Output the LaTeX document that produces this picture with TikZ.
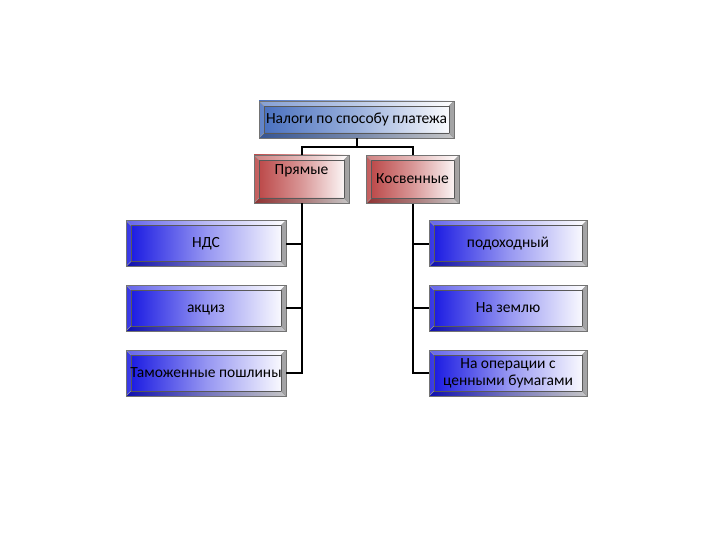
\documentclass[tikz,border=0pt]{standalone}
\usepackage{fontspec}
\setmainfont{Carlito}
\usetikzlibrary{calc}
\definecolor{bb}{RGB}{20,20,225}
\definecolor{tb}{RGB}{70,110,190}
\definecolor{rb}{RGB}{185,65,65}
\tikzset{
  bevel/.style={draw=black!55, line width=0.8pt, inner sep=0pt, align=center,
    font=\fontsize{15.5}{17}\selectfont,
    path picture={
      \coordinate (A) at (path picture bounding box.north west);
      \coordinate (B) at (path picture bounding box.north east);
      \coordinate (C) at (path picture bounding box.south east);
      \coordinate (D) at (path picture bounding box.south west);
      \coordinate (a) at ($(A)+(5pt,-5pt)$);
      \coordinate (b) at ($(B)+(-5pt,-5pt)$);
      \coordinate (c) at ($(C)+(-5pt,5pt)$);
      \coordinate (d) at ($(D)+(5pt,5pt)$);
      \fill[white, opacity=0.35] (A) -- (B) -- (b) -- (a) -- cycle;
      \fill[white, opacity=0.15] (A) -- (a) -- (d) -- (D) -- cycle;
      \fill[black, opacity=0.22] (D) -- (d) -- (c) -- (C) -- cycle;
      \fill[black, opacity=0.35] (B) -- (C) -- (c) -- (b) -- cycle;
      \draw[black!65, line width=0.6pt] (a) rectangle (c);
      \draw[black!40, line width=0.4pt] (A) -- (a) (B) -- (b) (C) -- (c) (D) -- (d);
    }},
  one/.style={text height=10pt, text depth=2pt},
  bluebox/.style={bevel, left color=bb, right color=white, middle color=bb!45,
    minimum width=160pt, minimum height=46pt},
  topbox/.style={bevel, one, left color=tb, right color=white, middle color=tb!55,
    minimum width=195pt, minimum height=37pt},
  redbox/.style={bevel, one, left color=rb, right color=white, middle color=rb!55,
    minimum width=95pt, minimum height=48pt},
  txt/.style={font=\fontsize{15.5}{17}\selectfont, inner sep=0pt, text height=10pt, text depth=2pt},
  con/.style={draw=black, line width=2pt}
}
\begin{document}
\begin{tikzpicture}[x=1pt, y=-1pt]
\useasboundingbox (0,0) rectangle (720,540);
% top
\node[topbox] (top) at (356.5,119.5) {Налоги по способу платежа};
% second level
\node[redbox] (pr) at (301.5,179) {};
\node[txt] (prt) at (301.5,171) {Прямые};
\node[redbox, minimum width=93pt] (ks) at (412.5,179.5) {Косвенные};
% left
\node[bluebox, one] (ndc) at (206,243.5) {НДС};
\node[bluebox, one] (akc) at (206,308) {акциз};
\node[bluebox, one] (tam) at (206,373) {Таможенные пошлины};
% right
\node[bluebox, one, minimum width=158pt] (pod) at (508,243.5) {подоходный};
\node[bluebox, one, minimum width=158pt] (zem) at (508,308) {На землю};
\node[bluebox, minimum width=158pt] (cb) at (508,373) {На операции с\\ценными бумагами};
% connectors
\draw[con] (top.south) -- ++(0,9) coordinate (mid);
\draw[con] (pr.north) |- (mid) -| (ks.north);
\draw[con] (pr.south) |- (ndc.east);
\draw[con] (pr.south) |- (akc.east);
\draw[con] (pr.south) |- (tam.east);
\draw[con] (ks.south) |- (pod.west);
\draw[con] (ks.south) |- (zem.west);
\draw[con] (ks.south) |- (cb.west);
\end{tikzpicture}
\end{document}
